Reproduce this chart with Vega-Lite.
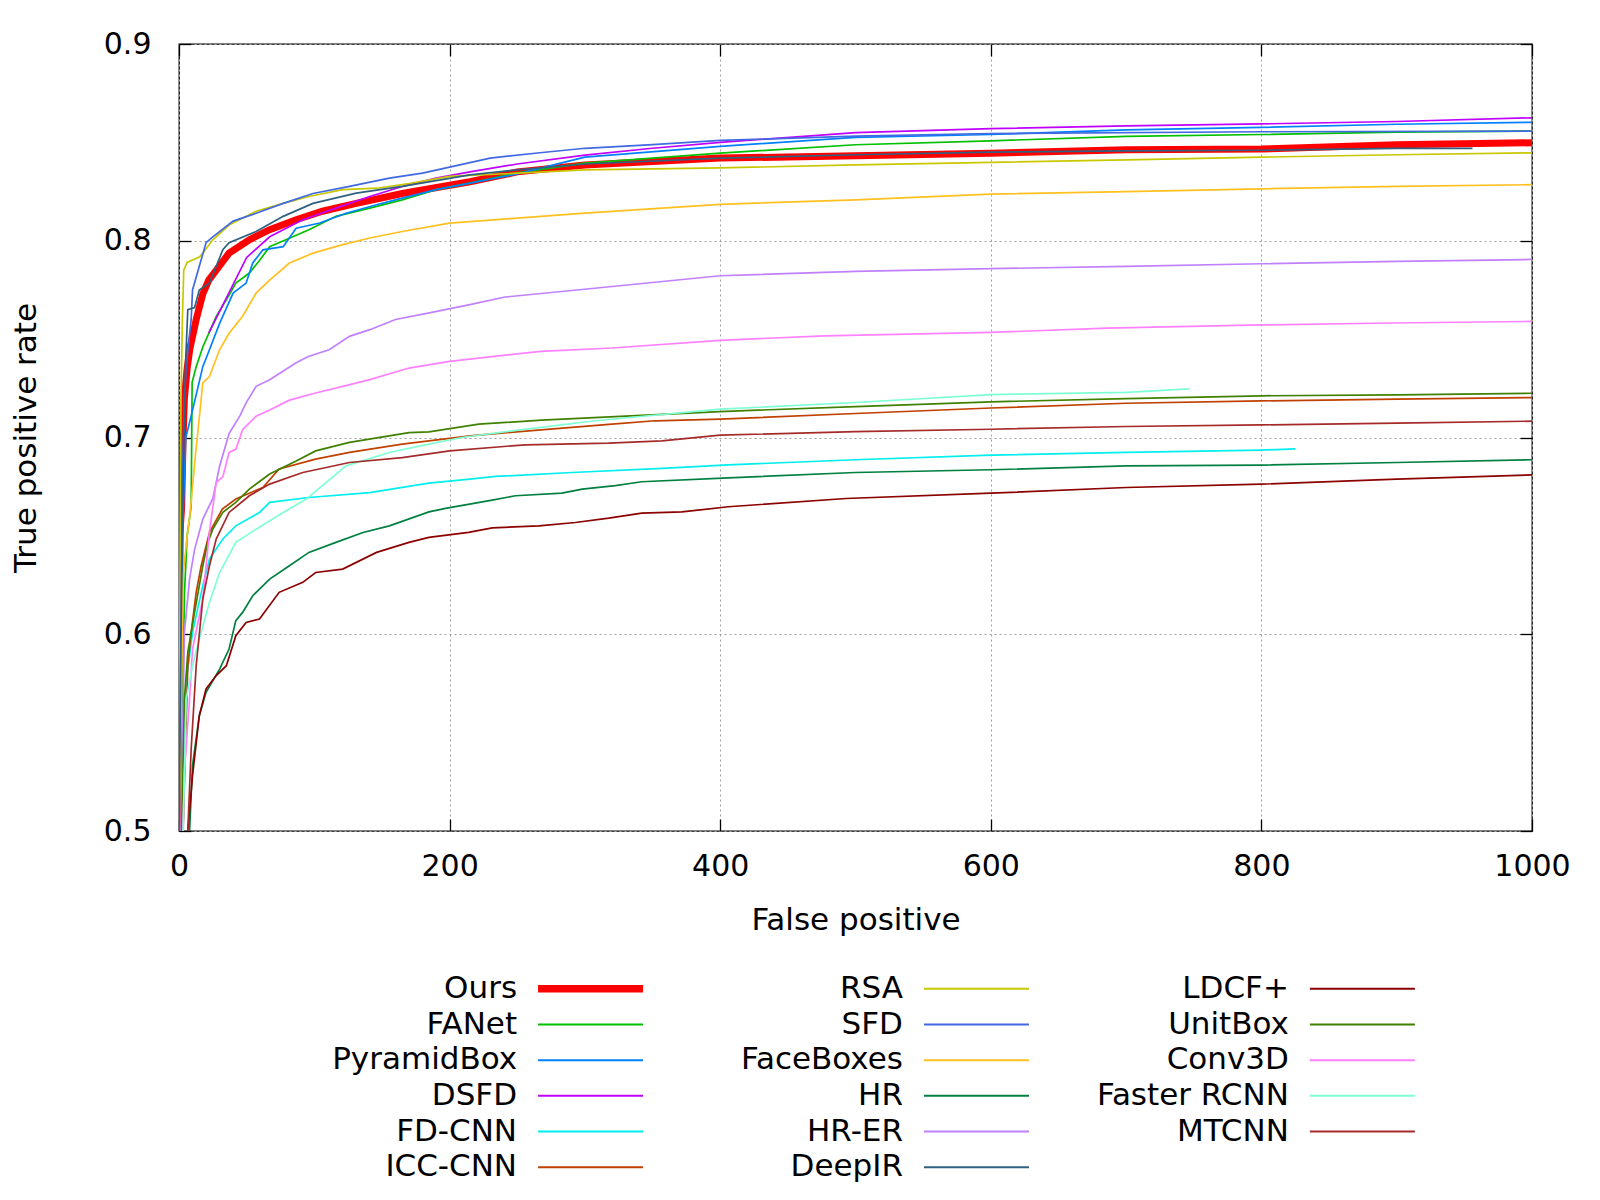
{
  "$schema": "https://vega.github.io/schema/vega-lite/v6.json",
  "background": "white",
  "padding": {"left": 9, "top": 28, "right": 5, "bottom": 5},
  "datasets": {
    "names": [
      {"m": "Ours"}, {"m": "FANet"}, {"m": "PyramidBox"}, {"m": "DSFD"}, {"m": "FD-CNN"}, {"m": "ICC-CNN"},
      {"m": "RSA"}, {"m": "SFD"}, {"m": "FaceBoxes"}, {"m": "HR"}, {"m": "HR-ER"}, {"m": "DeepIR"},
      {"m": "LDCF+"}, {"m": "UnitBox"}, {"m": "Conv3D"}, {"m": "Faster RCNN"}, {"m": "MTCNN"}
    ],
    "roc": [
      {"m":"Ours","x":0,"y":0.5},{"m":"Ours","x":0.5,"y":0.65},{"m":"Ours","x":2,"y":0.665},{"m":"Ours","x":3,"y":0.7},{"m":"Ours","x":4,"y":0.72},{"m":"Ours","x":6,"y":0.735},{"m":"Ours","x":8,"y":0.745},{"m":"Ours","x":12.7,"y":0.76},{"m":"Ours","x":17.6,"y":0.773},{"m":"Ours","x":22,"y":0.78},{"m":"Ours","x":27.5,"y":0.785},{"m":"Ours","x":37,"y":0.7937},{"m":"Ours","x":52,"y":0.8005},{"m":"Ours","x":67,"y":0.8056},{"m":"Ours","x":86.6,"y":0.8107},{"m":"Ours","x":106,"y":0.815},{"m":"Ours","x":131,"y":0.819},{"m":"Ours","x":165,"y":0.824},{"m":"Ours","x":215,"y":0.83},{"m":"Ours","x":250,"y":0.835},{"m":"Ours","x":300,"y":0.8385},{"m":"Ours","x":400,"y":0.842},{"m":"Ours","x":500,"y":0.8432},{"m":"Ours","x":600,"y":0.8445},{"m":"Ours","x":700,"y":0.8462},{"m":"Ours","x":800,"y":0.8466},{"m":"Ours","x":900,"y":0.8488},{"m":"Ours","x":1000,"y":0.8498},
      {"m":"FANet","x":2,"y":0.5},{"m":"FANet","x":3,"y":0.58},{"m":"FANet","x":4,"y":0.62},{"m":"FANet","x":6,"y":0.65},{"m":"FANet","x":9,"y":0.665},{"m":"FANet","x":9.7,"y":0.728},{"m":"FANet","x":12.7,"y":0.736},{"m":"FANet","x":17.6,"y":0.746},{"m":"FANet","x":27.5,"y":0.7616},{"m":"FANet","x":35,"y":0.77},{"m":"FANet","x":42,"y":0.7785},{"m":"FANet","x":52,"y":0.7836},{"m":"FANet","x":59.5,"y":0.79},{"m":"FANet","x":67,"y":0.797},{"m":"FANet","x":79,"y":0.8005},{"m":"FANet","x":96,"y":0.8056},{"m":"FANet","x":116,"y":0.8124},{"m":"FANet","x":141,"y":0.8166},{"m":"FANet","x":165,"y":0.8208},{"m":"FANet","x":190,"y":0.826},{"m":"FANet","x":215,"y":0.8293},{"m":"FANet","x":250,"y":0.8345},{"m":"FANet","x":300,"y":0.8395},{"m":"FANet","x":400,"y":0.8445},{"m":"FANet","x":500,"y":0.8488},{"m":"FANet","x":600,"y":0.8508},{"m":"FANet","x":700,"y":0.853},{"m":"FANet","x":800,"y":0.854},{"m":"FANet","x":900,"y":0.8552},{"m":"FANet","x":1000,"y":0.8557},
      {"m":"PyramidBox","x":0,"y":0.5},{"m":"PyramidBox","x":2,"y":0.6},{"m":"PyramidBox","x":3,"y":0.66},{"m":"PyramidBox","x":5,"y":0.7},{"m":"PyramidBox","x":9,"y":0.711},{"m":"PyramidBox","x":17.6,"y":0.736},{"m":"PyramidBox","x":22.5,"y":0.7446},{"m":"PyramidBox","x":30,"y":0.758},{"m":"PyramidBox","x":40,"y":0.7734},{"m":"PyramidBox","x":49.6,"y":0.7785},{"m":"PyramidBox","x":54.5,"y":0.7887},{"m":"PyramidBox","x":62,"y":0.7954},{"m":"PyramidBox","x":77,"y":0.797},{"m":"PyramidBox","x":86.6,"y":0.8064},{"m":"PyramidBox","x":104,"y":0.809},{"m":"PyramidBox","x":123.5,"y":0.814},{"m":"PyramidBox","x":146,"y":0.8183},{"m":"PyramidBox","x":165,"y":0.8217},{"m":"PyramidBox","x":190,"y":0.826},{"m":"PyramidBox","x":215,"y":0.8293},{"m":"PyramidBox","x":250,"y":0.834},{"m":"PyramidBox","x":300,"y":0.8425},{"m":"PyramidBox","x":400,"y":0.848},{"m":"PyramidBox","x":500,"y":0.8525},{"m":"PyramidBox","x":600,"y":0.854},{"m":"PyramidBox","x":700,"y":0.8564},{"m":"PyramidBox","x":800,"y":0.8576},{"m":"PyramidBox","x":900,"y":0.8592},{"m":"PyramidBox","x":1000,"y":0.8602},
      {"m":"DSFD","x":22,"y":0.753},{"m":"DSFD","x":50,"y":0.7915},{"m":"DSFD","x":67,"y":0.802},{"m":"DSFD","x":91.5,"y":0.8107},{"m":"DSFD","x":116,"y":0.8166},{"m":"DSFD","x":141,"y":0.8225},{"m":"DSFD","x":165,"y":0.8276},{"m":"DSFD","x":190,"y":0.8318},{"m":"DSFD","x":215,"y":0.835},{"m":"DSFD","x":250,"y":0.839},{"m":"DSFD","x":300,"y":0.8435},{"m":"DSFD","x":350,"y":0.847},{"m":"DSFD","x":400,"y":0.85},{"m":"DSFD","x":500,"y":0.855},{"m":"DSFD","x":600,"y":0.857},{"m":"DSFD","x":700,"y":0.8584},{"m":"DSFD","x":800,"y":0.8594},{"m":"DSFD","x":900,"y":0.8606},{"m":"DSFD","x":1000,"y":0.8625},
      {"m":"FD-CNN","x":3,"y":0.5},{"m":"FD-CNN","x":5.3,"y":0.5756},{"m":"FD-CNN","x":10,"y":0.601},{"m":"FD-CNN","x":17.6,"y":0.6247},{"m":"FD-CNN","x":22.5,"y":0.6382},{"m":"FD-CNN","x":32.4,"y":0.6484},{"m":"FD-CNN","x":42,"y":0.6551},{"m":"FD-CNN","x":59.5,"y":0.6619},{"m":"FD-CNN","x":67,"y":0.667},{"m":"FD-CNN","x":96,"y":0.6695},{"m":"FD-CNN","x":141,"y":0.672},{"m":"FD-CNN","x":184.7,"y":0.6768},{"m":"FD-CNN","x":215,"y":0.6788},{"m":"FD-CNN","x":234,"y":0.6802},{"m":"FD-CNN","x":290.5,"y":0.6822},{"m":"FD-CNN","x":357,"y":0.6843},{"m":"FD-CNN","x":406,"y":0.6861},{"m":"FD-CNN","x":500,"y":0.6887},{"m":"FD-CNN","x":600,"y":0.691},{"m":"FD-CNN","x":700,"y":0.6924},{"m":"FD-CNN","x":800,"y":0.6936},{"m":"FD-CNN","x":825,"y":0.6942},
      {"m":"ICC-CNN","x":3,"y":0.5},{"m":"ICC-CNN","x":6.5,"y":0.584},{"m":"ICC-CNN","x":9,"y":0.601},{"m":"ICC-CNN","x":12.7,"y":0.6213},{"m":"ICC-CNN","x":16.4,"y":0.6348},{"m":"ICC-CNN","x":22.5,"y":0.6517},{"m":"ICC-CNN","x":32,"y":0.6636},{"m":"ICC-CNN","x":42,"y":0.6687},{"m":"ICC-CNN","x":62,"y":0.6746},{"m":"ICC-CNN","x":74,"y":0.684},{"m":"ICC-CNN","x":101,"y":0.689},{"m":"ICC-CNN","x":126,"y":0.6924},{"m":"ICC-CNN","x":165,"y":0.6966},{"m":"ICC-CNN","x":215,"y":0.7008},{"m":"ICC-CNN","x":258.5,"y":0.7034},{"m":"ICC-CNN","x":320,"y":0.7068},{"m":"ICC-CNN","x":352,"y":0.7085},{"m":"ICC-CNN","x":400,"y":0.7093},{"m":"ICC-CNN","x":500,"y":0.7122},{"m":"ICC-CNN","x":600,"y":0.715},{"m":"ICC-CNN","x":700,"y":0.7174},{"m":"ICC-CNN","x":800,"y":0.7186},{"m":"ICC-CNN","x":900,"y":0.7195},{"m":"ICC-CNN","x":1000,"y":0.7203},
      {"m":"RSA","x":0,"y":0.5},{"m":"RSA","x":0.7,"y":0.62},{"m":"RSA","x":1.5,"y":0.72},{"m":"RSA","x":2.5,"y":0.76},{"m":"RSA","x":3.5,"y":0.785},{"m":"RSA","x":6,"y":0.789},{"m":"RSA","x":15,"y":0.7917},{"m":"RSA","x":17.6,"y":0.7937},{"m":"RSA","x":25,"y":0.8005},{"m":"RSA","x":37,"y":0.808},{"m":"RSA","x":57,"y":0.815},{"m":"RSA","x":77,"y":0.819},{"m":"RSA","x":96,"y":0.8225},{"m":"RSA","x":121,"y":0.826},{"m":"RSA","x":146,"y":0.8267},{"m":"RSA","x":170,"y":0.829},{"m":"RSA","x":200,"y":0.8327},{"m":"RSA","x":300,"y":0.836},{"m":"RSA","x":400,"y":0.837},{"m":"RSA","x":500,"y":0.8386},{"m":"RSA","x":600,"y":0.8398},{"m":"RSA","x":700,"y":0.8411},{"m":"RSA","x":800,"y":0.8425},{"m":"RSA","x":900,"y":0.8437},{"m":"RSA","x":1000,"y":0.8447},
      {"m":"SFD","x":0,"y":0.5},{"m":"SFD","x":1.5,"y":0.6},{"m":"SFD","x":2.5,"y":0.68},{"m":"SFD","x":4,"y":0.72},{"m":"SFD","x":5.3,"y":0.736},{"m":"SFD","x":9,"y":0.76},{"m":"SFD","x":10,"y":0.775},{"m":"SFD","x":15,"y":0.787},{"m":"SFD","x":20,"y":0.799},{"m":"SFD","x":25,"y":0.802},{"m":"SFD","x":40,"y":0.81},{"m":"SFD","x":57,"y":0.814},{"m":"SFD","x":77,"y":0.819},{"m":"SFD","x":99,"y":0.824},{"m":"SFD","x":126,"y":0.8276},{"m":"SFD","x":155.5,"y":0.8318},{"m":"SFD","x":180,"y":0.8344},{"m":"SFD","x":200,"y":0.8374},{"m":"SFD","x":230,"y":0.842},{"m":"SFD","x":265,"y":0.8446},{"m":"SFD","x":300,"y":0.847},{"m":"SFD","x":350,"y":0.8489},{"m":"SFD","x":400,"y":0.851},{"m":"SFD","x":500,"y":0.8532},{"m":"SFD","x":600,"y":0.8545},{"m":"SFD","x":800,"y":0.8554},{"m":"SFD","x":1000,"y":0.8557},
      {"m":"FaceBoxes","x":0,"y":0.5},{"m":"FaceBoxes","x":2,"y":0.58},{"m":"FaceBoxes","x":3,"y":0.63},{"m":"FaceBoxes","x":6,"y":0.65},{"m":"FaceBoxes","x":8,"y":0.66},{"m":"FaceBoxes","x":12,"y":0.69},{"m":"FaceBoxes","x":15,"y":0.71},{"m":"FaceBoxes","x":17.6,"y":0.7277},{"m":"FaceBoxes","x":22.5,"y":0.731},{"m":"FaceBoxes","x":30,"y":0.7446},{"m":"FaceBoxes","x":37,"y":0.753},{"m":"FaceBoxes","x":47,"y":0.7616},{"m":"FaceBoxes","x":57,"y":0.7734},{"m":"FaceBoxes","x":67,"y":0.78},{"m":"FaceBoxes","x":81.6,"y":0.7887},{"m":"FaceBoxes","x":99,"y":0.7937},{"m":"FaceBoxes","x":121,"y":0.798},{"m":"FaceBoxes","x":141,"y":0.8014},{"m":"FaceBoxes","x":165,"y":0.8047},{"m":"FaceBoxes","x":200,"y":0.809},{"m":"FaceBoxes","x":250,"y":0.8115},{"m":"FaceBoxes","x":300,"y":0.814},{"m":"FaceBoxes","x":400,"y":0.8185},{"m":"FaceBoxes","x":500,"y":0.8208},{"m":"FaceBoxes","x":600,"y":0.8237},{"m":"FaceBoxes","x":700,"y":0.825},{"m":"FaceBoxes","x":800,"y":0.8264},{"m":"FaceBoxes","x":900,"y":0.8276},{"m":"FaceBoxes","x":1000,"y":0.8285},
      {"m":"HR","x":7.8,"y":0.5},{"m":"HR","x":10,"y":0.5333},{"m":"HR","x":15,"y":0.5586},{"m":"HR","x":20,"y":0.5705},{"m":"HR","x":30,"y":0.5823},{"m":"HR","x":37,"y":0.5925},{"m":"HR","x":42,"y":0.6069},{"m":"HR","x":47,"y":0.6111},{"m":"HR","x":54.5,"y":0.6196},{"m":"HR","x":67,"y":0.628},{"m":"HR","x":81.6,"y":0.6348},{"m":"HR","x":96,"y":0.6416},{"m":"HR","x":116,"y":0.6467},{"m":"HR","x":136,"y":0.6517},{"m":"HR","x":155.5,"y":0.6551},{"m":"HR","x":184.7,"y":0.6622},{"m":"HR","x":197,"y":0.664},{"m":"HR","x":231.5,"y":0.6682},{"m":"HR","x":248.7,"y":0.6704},{"m":"HR","x":283,"y":0.6717},{"m":"HR","x":298,"y":0.6738},{"m":"HR","x":322.5,"y":0.6755},{"m":"HR","x":342,"y":0.6775},{"m":"HR","x":406,"y":0.6795},{"m":"HR","x":500,"y":0.6822},{"m":"HR","x":600,"y":0.6836},{"m":"HR","x":700,"y":0.6856},{"m":"HR","x":800,"y":0.686},{"m":"HR","x":900,"y":0.6873},{"m":"HR","x":1000,"y":0.6887},
      {"m":"HR-ER","x":1.5,"y":0.5},{"m":"HR-ER","x":4,"y":0.601},{"m":"HR-ER","x":7.8,"y":0.628},{"m":"HR-ER","x":11.5,"y":0.643},{"m":"HR-ER","x":17.6,"y":0.6585},{"m":"HR-ER","x":25,"y":0.669},{"m":"HR-ER","x":30,"y":0.6854},{"m":"HR-ER","x":37,"y":0.702},{"m":"HR-ER","x":45,"y":0.711},{"m":"HR-ER","x":49.6,"y":0.7176},{"m":"HR-ER","x":57,"y":0.726},{"m":"HR-ER","x":67,"y":0.7294},{"m":"HR-ER","x":86.6,"y":0.738},{"m":"HR-ER","x":96,"y":0.7413},{"m":"HR-ER","x":111,"y":0.7446},{"m":"HR-ER","x":126,"y":0.7514},{"m":"HR-ER","x":141,"y":0.7548},{"m":"HR-ER","x":160,"y":0.76},{"m":"HR-ER","x":185,"y":0.7633},{"m":"HR-ER","x":215,"y":0.7675},{"m":"HR-ER","x":241,"y":0.7714},{"m":"HR-ER","x":296,"y":0.7751},{"m":"HR-ER","x":400,"y":0.7822},{"m":"HR-ER","x":500,"y":0.7844},{"m":"HR-ER","x":600,"y":0.7858},{"m":"HR-ER","x":700,"y":0.787},{"m":"HR-ER","x":800,"y":0.7883},{"m":"HR-ER","x":900,"y":0.7895},{"m":"HR-ER","x":1000,"y":0.7905},
      {"m":"DeepIR","x":0,"y":0.5},{"m":"DeepIR","x":1.5,"y":0.6},{"m":"DeepIR","x":3,"y":0.68},{"m":"DeepIR","x":5,"y":0.74},{"m":"DeepIR","x":6.5,"y":0.765},{"m":"DeepIR","x":11.5,"y":0.766},{"m":"DeepIR","x":15,"y":0.775},{"m":"DeepIR","x":22.5,"y":0.7785},{"m":"DeepIR","x":32.4,"y":0.7954},{"m":"DeepIR","x":37,"y":0.799},{"m":"DeepIR","x":57,"y":0.8047},{"m":"DeepIR","x":77,"y":0.8124},{"m":"DeepIR","x":99,"y":0.819},{"m":"DeepIR","x":131,"y":0.8242},{"m":"DeepIR","x":165,"y":0.8276},{"m":"DeepIR","x":215,"y":0.8335},{"m":"DeepIR","x":250,"y":0.836},{"m":"DeepIR","x":300,"y":0.839},{"m":"DeepIR","x":400,"y":0.842},{"m":"DeepIR","x":500,"y":0.8437},{"m":"DeepIR","x":600,"y":0.845},{"m":"DeepIR","x":700,"y":0.8457},{"m":"DeepIR","x":800,"y":0.846},{"m":"DeepIR","x":900,"y":0.847},{"m":"DeepIR","x":956,"y":0.847},
      {"m":"LDCF+","x":6.5,"y":0.5},{"m":"LDCF+","x":10,"y":0.5282},{"m":"LDCF+","x":15,"y":0.5586},{"m":"LDCF+","x":20,"y":0.5722},{"m":"LDCF+","x":27.5,"y":0.579},{"m":"LDCF+","x":35,"y":0.584},{"m":"LDCF+","x":42,"y":0.5993},{"m":"LDCF+","x":49.6,"y":0.606},{"m":"LDCF+","x":59.5,"y":0.6077},{"m":"LDCF+","x":74,"y":0.6213},{"m":"LDCF+","x":91.5,"y":0.6264},{"m":"LDCF+","x":101,"y":0.6314},{"m":"LDCF+","x":121,"y":0.6331},{"m":"LDCF+","x":146,"y":0.6416},{"m":"LDCF+","x":170,"y":0.6467},{"m":"LDCF+","x":184.7,"y":0.6492},{"m":"LDCF+","x":214,"y":0.6518},{"m":"LDCF+","x":231.5,"y":0.6541},{"m":"LDCF+","x":266,"y":0.6551},{"m":"LDCF+","x":293,"y":0.6568},{"m":"LDCF+","x":317.6,"y":0.659},{"m":"LDCF+","x":342,"y":0.6616},{"m":"LDCF+","x":371.7,"y":0.6622},{"m":"LDCF+","x":406,"y":0.6648},{"m":"LDCF+","x":493,"y":0.669},{"m":"LDCF+","x":600,"y":0.6717},{"m":"LDCF+","x":700,"y":0.6746},{"m":"LDCF+","x":800,"y":0.6763},{"m":"LDCF+","x":900,"y":0.6788},{"m":"LDCF+","x":1000,"y":0.681},
      {"m":"UnitBox","x":2,"y":0.5},{"m":"UnitBox","x":4,"y":0.567},{"m":"UnitBox","x":6.5,"y":0.5908},{"m":"UnitBox","x":11.5,"y":0.6111},{"m":"UnitBox","x":17.6,"y":0.6348},{"m":"UnitBox","x":21.3,"y":0.6467},{"m":"UnitBox","x":25,"y":0.6534},{"m":"UnitBox","x":32.4,"y":0.662},{"m":"UnitBox","x":42,"y":0.667},{"m":"UnitBox","x":52,"y":0.6738},{"m":"UnitBox","x":67,"y":0.6814},{"m":"UnitBox","x":86.6,"y":0.688},{"m":"UnitBox","x":101,"y":0.6932},{"m":"UnitBox","x":126,"y":0.6975},{"m":"UnitBox","x":170,"y":0.7025},{"m":"UnitBox","x":184.7,"y":0.7029},{"m":"UnitBox","x":221.6,"y":0.7068},{"m":"UnitBox","x":268,"y":0.7088},{"m":"UnitBox","x":400,"y":0.7132},{"m":"UnitBox","x":500,"y":0.7157},{"m":"UnitBox","x":600,"y":0.7181},{"m":"UnitBox","x":700,"y":0.7198},{"m":"UnitBox","x":800,"y":0.7212},{"m":"UnitBox","x":900,"y":0.7217},{"m":"UnitBox","x":1000,"y":0.7225},
      {"m":"Conv3D","x":3,"y":0.5},{"m":"Conv3D","x":4,"y":0.53},{"m":"Conv3D","x":7.8,"y":0.567},{"m":"Conv3D","x":10,"y":0.5925},{"m":"Conv3D","x":17.6,"y":0.618},{"m":"Conv3D","x":22.5,"y":0.652},{"m":"Conv3D","x":27.5,"y":0.6771},{"m":"Conv3D","x":32.4,"y":0.68},{"m":"Conv3D","x":37,"y":0.6924},{"m":"Conv3D","x":42,"y":0.694},{"m":"Conv3D","x":47,"y":0.704},{"m":"Conv3D","x":57,"y":0.7108},{"m":"Conv3D","x":67,"y":0.714},{"m":"Conv3D","x":81.6,"y":0.719},{"m":"Conv3D","x":101,"y":0.7226},{"m":"Conv3D","x":121,"y":0.726},{"m":"Conv3D","x":141,"y":0.7294},{"m":"Conv3D","x":170,"y":0.7353},{"m":"Conv3D","x":200,"y":0.7387},{"m":"Conv3D","x":267.5,"y":0.7438},{"m":"Conv3D","x":320,"y":0.7455},{"m":"Conv3D","x":400,"y":0.7494},{"m":"Conv3D","x":477,"y":0.7517},{"m":"Conv3D","x":600,"y":0.7534},{"m":"Conv3D","x":686,"y":0.7556},{"m":"Conv3D","x":800,"y":0.7572},{"m":"Conv3D","x":896,"y":0.7582},{"m":"Conv3D","x":1000,"y":0.759},
      {"m":"Faster RCNN","x":3,"y":0.5},{"m":"Faster RCNN","x":5.3,"y":0.567},{"m":"Faster RCNN","x":10,"y":0.584},{"m":"Faster RCNN","x":16.4,"y":0.601},{"m":"Faster RCNN","x":22.5,"y":0.6162},{"m":"Faster RCNN","x":30,"y":0.6314},{"m":"Faster RCNN","x":42,"y":0.6467},{"m":"Faster RCNN","x":57,"y":0.6534},{"m":"Faster RCNN","x":77,"y":0.6619},{"m":"Faster RCNN","x":94,"y":0.6687},{"m":"Faster RCNN","x":123.5,"y":0.6856},{"m":"Faster RCNN","x":155.5,"y":0.6924},{"m":"Faster RCNN","x":184.7,"y":0.6966},{"m":"Faster RCNN","x":209,"y":0.7},{"m":"Faster RCNN","x":246,"y":0.7034},{"m":"Faster RCNN","x":307.7,"y":0.7085},{"m":"Faster RCNN","x":400,"y":0.7144},{"m":"Faster RCNN","x":500,"y":0.7178},{"m":"Faster RCNN","x":600,"y":0.7218},{"m":"Faster RCNN","x":700,"y":0.7229},{"m":"Faster RCNN","x":747,"y":0.7247},
      {"m":"MTCNN","x":6.5,"y":0.5},{"m":"MTCNN","x":9,"y":0.5417},{"m":"MTCNN","x":12.7,"y":0.584},{"m":"MTCNN","x":17.6,"y":0.6179},{"m":"MTCNN","x":22.5,"y":0.6348},{"m":"MTCNN","x":27.5,"y":0.6484},{"m":"MTCNN","x":37,"y":0.6619},{"m":"MTCNN","x":52,"y":0.6704},{"m":"MTCNN","x":67,"y":0.6763},{"m":"MTCNN","x":91.5,"y":0.6822},{"m":"MTCNN","x":126,"y":0.6873},{"m":"MTCNN","x":165,"y":0.6898},{"m":"MTCNN","x":200,"y":0.6932},{"m":"MTCNN","x":256,"y":0.6963},{"m":"MTCNN","x":317.6,"y":0.6971},{"m":"MTCNN","x":357,"y":0.6983},{"m":"MTCNN","x":400,"y":0.7012},{"m":"MTCNN","x":500,"y":0.703},{"m":"MTCNN","x":600,"y":0.7042},{"m":"MTCNN","x":700,"y":0.7056},{"m":"MTCNN","x":800,"y":0.7064},{"m":"MTCNN","x":900,"y":0.7073},{"m":"MTCNN","x":1000,"y":0.7083}
    ]
  },
  "bounds": "flush",
  "spacing": 140,
  "vconcat": [
    {
      "width": 1353,
      "height": 787,
      "data": {"name": "roc"},
      "layer": [
        {
          "mark": {"type": "line", "clip": true},
          "encoding": {
            "x": {
              "field": "x", "type": "quantitative",
              "scale": {"domain": [0, 1000], "nice": false, "zero": false},
              "axis": {"orient": "bottom", "title": "False positive", "values": [0, 200, 400, 600, 800, 1000], "format": "d",
                       "tickSize": -12, "labelPadding": 32, "titlePadding": 24, "labelFlush": false, "grid": true}
            },
            "y": {
              "field": "y", "type": "quantitative",
              "scale": {"domain": [0.5, 0.9], "nice": false, "zero": false},
              "axis": {"orient": "left", "title": "True positive rate", "values": [0.5, 0.6, 0.7, 0.8, 0.9], "format": ".1f",
                       "tickSize": -12, "labelPadding": 40, "titlePadding": 61, "labelFlush": false, "grid": true}
            },
            "color": {
              "field": "m", "type": "nominal", "legend": null,
              "scale": {
                "domain": ["Ours", "FANet", "PyramidBox", "DSFD", "FD-CNN", "ICC-CNN", "RSA", "SFD", "FaceBoxes", "HR", "HR-ER", "DeepIR", "LDCF+", "UnitBox", "Conv3D", "Faster RCNN", "MTCNN"],
                "range": ["#ff0000", "#00c000", "#0080ff", "#c000ff", "#00eeee", "#c04000", "#c8c800", "#4169e1", "#ffc020", "#008040", "#c080ff", "#306080", "#8b0000", "#408000", "#ff80ff", "#7fffd4", "#a52a2a"]
              }
            },
            "strokeWidth": {"condition": {"test": "datum.m === 'Ours'", "value": 7}, "value": 1.7}
          }
        },
        {
          "mark": {"type": "point", "opacity": 0},
          "encoding": {
            "x": {"field": "x", "type": "quantitative",
                  "axis": {"orient": "top", "title": null, "labels": false, "grid": false, "values": [0, 200, 400, 600, 800, 1000], "tickSize": -12}},
            "y": {"field": "y", "type": "quantitative",
                  "axis": {"orient": "right", "title": null, "labels": false, "grid": false, "values": [0.5, 0.6, 0.7, 0.8, 0.9], "tickSize": -12}}
          }
        }
      ],
      "resolve": {"axis": {"x": "independent", "y": "independent"}}
    },
    {
      "width": 1353,
      "height": 214,
      "view": {"stroke": null},
      "data": {"name": "names"},
      "transform": [
        {"window": [{"op": "row_number", "as": "i"}]},
        {"calculate": "floor((datum.i - 1) / 6)", "as": "col"},
        {"calculate": "(datum.i - 1) % 6", "as": "row"}
      ],
      "encoding": {
        "x": {"field": "col", "type": "quantitative", "axis": null, "scale": {"domain": [-0.876, 2.63], "nice": false, "zero": false}},
        "y": {"field": "row", "type": "quantitative", "axis": null, "scale": {"domain": [-0.5, 5.5], "reverse": true, "nice": false, "zero": false}}
      },
      "layer": [
        {
          "mark": {"type": "text", "align": "right", "baseline": "middle", "font": "DejaVu Sans", "fontSize": 31, "color": "black"},
          "encoding": {"text": {"field": "m"}}
        },
        {
          "mark": {"type": "rule", "xOffset": 21, "x2Offset": 126},
          "encoding": {
            "x2": {"field": "col"},
            "color": {"field": "m", "type": "nominal", "legend": null,
              "scale": {
                "domain": ["Ours", "FANet", "PyramidBox", "DSFD", "FD-CNN", "ICC-CNN", "RSA", "SFD", "FaceBoxes", "HR", "HR-ER", "DeepIR", "LDCF+", "UnitBox", "Conv3D", "Faster RCNN", "MTCNN"],
                "range": ["#ff0000", "#00c000", "#0080ff", "#c000ff", "#00eeee", "#c04000", "#c8c800", "#4169e1", "#ffc020", "#008040", "#c080ff", "#306080", "#8b0000", "#408000", "#ff80ff", "#7fffd4", "#a52a2a"]
              }
            },
            "strokeWidth": {"condition": {"test": "datum.m === 'Ours'", "value": 7.5}, "value": 2}
          }
        }
      ]
    }
  ],
  "config": {
    "font": "DejaVu Sans",
    "view": {"stroke": "black", "strokeWidth": 1.3},
    "axis": {
      "labelFont": "DejaVu Sans", "labelFontSize": 30, "labelColor": "black",
      "titleFont": "DejaVu Sans", "titleFontSize": 31, "titleFontWeight": "normal", "titleColor": "black",
      "tickColor": "black", "tickWidth": 1.3, "domain": false,
      "gridColor": "#a0a0a0", "gridDash": [2, 3], "gridWidth": 1, "gridOpacity": 1
    }
  }
}
